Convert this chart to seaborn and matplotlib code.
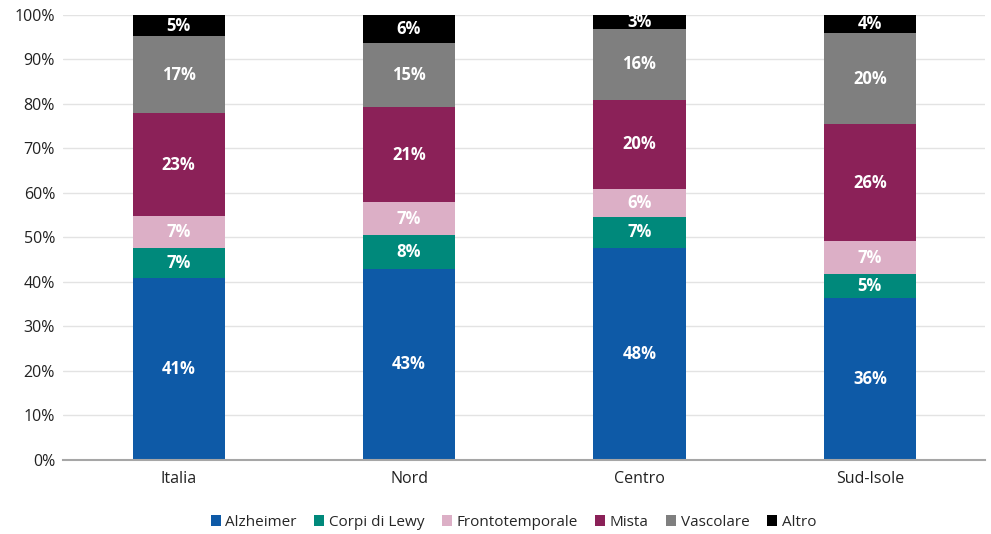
import matplotlib
matplotlib.use("Agg")
import matplotlib.pyplot as plt
import seaborn as sns
import numpy as np
import pandas as pd
from matplotlib.patches import Patch

categories = ["Italia", "Nord", "Centro", "Sud-Isole"]
series_names = ["Alzheimer", "Corpi di Lewy", "Frontotemporale", "Mista", "Vascolare", "Altro"]
alzheimer = [40.9, 42.9, 47.6, 36.4]
corpi_lewy = [6.7, 7.6, 7.0, 5.3]
frontotemporale = [7.2, 7.4, 6.3, 7.4]
mista = [23.1, 21.3, 20.0, 26.4]
vascolare = [17.3, 14.6, 16.0, 20.4]
altro = [4.8, 6.2, 3.1, 4.1]
colors = ["#0E5AA7", "#00897B", "#DCAFC6", "#8B2158", "#7F7F7F", "#000000"]

series = [alzheimer, corpi_lewy, frontotemporale, mista, vascolare, altro]

sns.set_theme(style="white")
plt.rcParams['font.family'] = ['Open Sans', 'DejaVu Sans']

fig, ax = plt.subplots(figsize=(9.91, 5.34), dpi=100)
fig.subplots_adjust(left=0.064, right=0.994, top=0.972, bottom=0.139)

bottom = np.zeros(len(categories))
for name, vals, col in zip(series_names, series, colors):
    df = pd.DataFrame({"cat": categories, "val": vals})
    sns.barplot(data=df, x="cat", y="val", color=col, bottom=bottom, width=0.4,
                ax=ax, saturation=1, linewidth=0, order=categories)
    for i, v in enumerate(vals):
        ax.text(i, bottom[i] + v / 2, f"{round(v):d}%", ha="center", va="center",
                color="white", fontsize=12, fontweight="bold")
    bottom = bottom + np.array(vals)

ax.set_ylim(0, 100)
ax.set_xlim(-0.5, 3.5)
ax.set_yticks(np.arange(0, 101, 10))
ax.set_yticklabels([f"{t}%" for t in range(0, 101, 10)], fontsize=11.5, color="#222222")
ax.tick_params(axis="x", labelsize=11.5, colors="#222222", length=0, pad=8)
ax.tick_params(axis="y", length=0, pad=6)
ax.set_xlabel("")
ax.set_ylabel("")
ax.yaxis.grid(True, color="#E3E3E3", linewidth=1)
ax.set_axisbelow(True)
for s in ["top", "right", "left"]:
    ax.spines[s].set_visible(False)
ax.spines["bottom"].set_color("#A6A6A6")
ax.spines["bottom"].set_linewidth(1.5)

handles = [Patch(facecolor=c, edgecolor="none", label=n) for n, c in zip(series_names, colors)]
fig.legend(handles=handles, loc="lower center", ncol=6, frameon=False,
           bbox_to_anchor=(0.518, -0.018), fontsize=11,
           handlelength=0.65, handleheight=0.65,
           handletextpad=0.3, columnspacing=1.15)

fig.savefig("out.png", dpi=100)
